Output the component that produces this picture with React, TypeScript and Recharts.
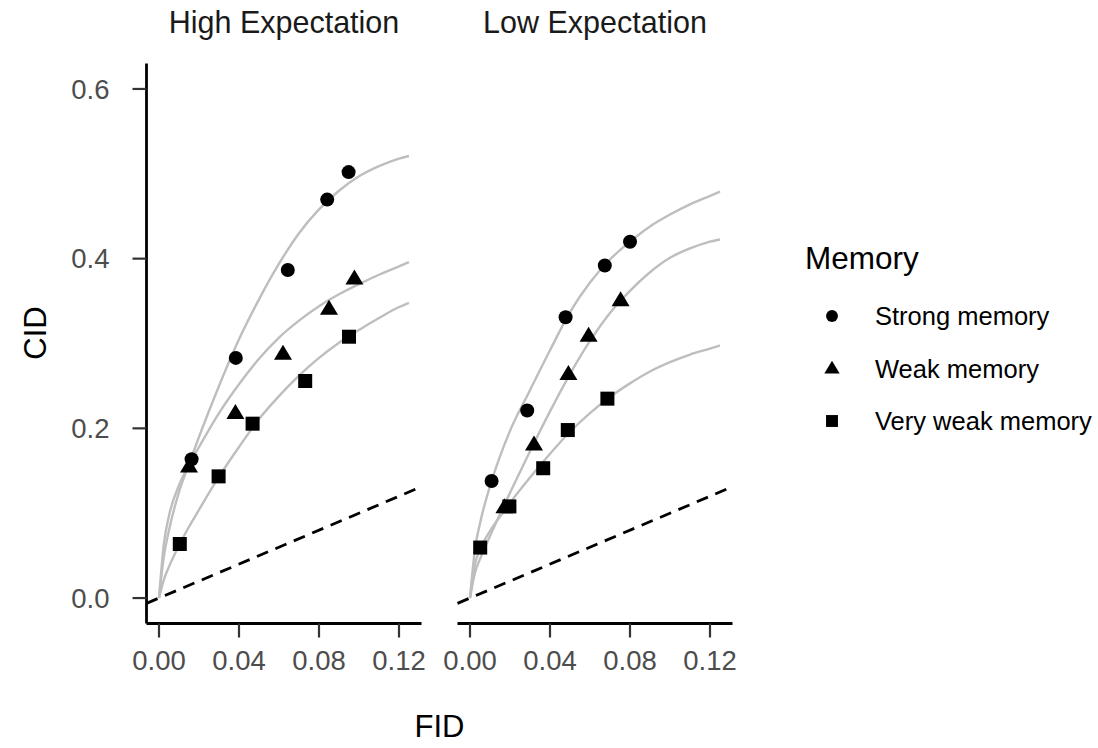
import {
  ComposedChart,
  Line,
  ReferenceLine,
  Scatter,
  XAxis,
  YAxis
} from "recharts";

const FONT = "'Liberation Sans', Arial, sans-serif";

const xTicks = [0, 0.04, 0.08, 0.12];
const yTicks = [0, 0.2, 0.4, 0.6];
const xDomain: [number, number] = [-0.00625, 0.13125];
const yDomain: [number, number] = [-0.03, 0.63];

const panels = ["High Expectation", "Low Expectation"];
const memoryLevels = ["Strong memory", "Weak memory", "Very weak memory"];

const highStrongFid = [0.0163, 0.0384, 0.0644, 0.0841, 0.0948];
const highStrongCid = [0.1635, 0.283, 0.3866, 0.4696, 0.502];
const highWeakFid = [0.015, 0.0382, 0.062, 0.085, 0.0977];
const highWeakCid = [0.155, 0.218, 0.288, 0.341, 0.3765];
const highVeryWeakFid = [0.0104, 0.0298, 0.0468, 0.0731, 0.095];
const highVeryWeakCid = [0.0637, 0.1434, 0.2055, 0.2558, 0.308];

const lowStrongFid = [0.0108, 0.0286, 0.0478, 0.0674, 0.08];
const lowStrongCid = [0.138, 0.221, 0.331, 0.392, 0.42];
const lowWeakFid = [0.0172, 0.032, 0.0492, 0.0593, 0.0753];
const lowWeakCid = [0.107, 0.181, 0.264, 0.309, 0.351];
const lowVeryWeakFid = [0.0051, 0.0197, 0.0366, 0.0489, 0.0687];
const lowVeryWeakCid = [0.0595, 0.108, 0.153, 0.198, 0.235];

// fitted curves
const curveFid = [
  0, 0.0025, 0.005, 0.01, 0.015, 0.02, 0.03, 0.04, 0.05, 0.06, 0.07, 0.08,
  0.09, 0.1, 0.11, 0.12, 0.125
];
const highStrongFit = [
  0, 0.05, 0.08, 0.125, 0.158, 0.19, 0.25, 0.305, 0.352, 0.394, 0.43, 0.458,
  0.48, 0.497, 0.509, 0.518, 0.521
];
const highWeakFit = [
  0, 0.065, 0.097, 0.133, 0.157, 0.178, 0.218, 0.252, 0.282, 0.307, 0.327,
  0.344, 0.358, 0.37, 0.381, 0.391, 0.396
];
const highVeryWeakFit = [
  0, 0.022, 0.037, 0.062, 0.084, 0.104, 0.143, 0.178, 0.211, 0.238, 0.262,
  0.283, 0.301, 0.316, 0.33, 0.343, 0.348
];
const lowStrongFit = [
  0, 0.058, 0.088, 0.132, 0.167, 0.197, 0.245, 0.292, 0.337, 0.372, 0.399,
  0.42, 0.438, 0.452, 0.464, 0.474, 0.479
];
const lowWeakFit = [
  0, 0.03, 0.046, 0.073, 0.099, 0.124, 0.173, 0.22, 0.264, 0.303, 0.336,
  0.362, 0.384, 0.401, 0.412, 0.42, 0.4226
];
const lowVeryWeakFit = [
  0, 0.04, 0.057, 0.079, 0.096, 0.112, 0.142, 0.17, 0.196, 0.218, 0.237,
  0.253, 0.267, 0.278, 0.287, 0.294, 0.2977
];

const toPoints = (xs: number[], ys: number[]) =>
  xs.map((x, i) => ({ x, y: ys[i] }));

const panelData = [
  {
    points: [
      toPoints(highStrongFid, highStrongCid),
      toPoints(highWeakFid, highWeakCid),
      toPoints(highVeryWeakFid, highVeryWeakCid)
    ],
    fits: [
      toPoints(curveFid, highStrongFit),
      toPoints(curveFid, highWeakFit),
      toPoints(curveFid, highVeryWeakFit)
    ]
  },
  {
    points: [
      toPoints(lowStrongFid, lowStrongCid),
      toPoints(lowWeakFid, lowWeakCid),
      toPoints(lowVeryWeakFid, lowVeryWeakCid)
    ],
    fits: [
      toPoints(curveFid, lowStrongFit),
      toPoints(curveFid, lowWeakFit),
      toPoints(curveFid, lowVeryWeakFit)
    ]
  }
];

function CircleMark({ cx, cy }: { cx?: number; cy?: number }) {
  return <circle cx={cx} cy={cy} r={7} fill="#000" />;
}

function TriangleMark({ cx, cy }: { cx?: number; cy?: number }) {
  const x = cx ?? 0;
  const y = cy ?? 0;
  return (
    <polygon
      points={`${x},${y - 9} ${x - 9},${y + 6} ${x + 9},${y + 6}`}
      fill="#000"
    />
  );
}

function SquareMark({ cx, cy }: { cx?: number; cy?: number }) {
  return (
    <rect x={(cx ?? 0) - 7} y={(cy ?? 0) - 7} width={14} height={14} fill="#000" />
  );
}

const marks = [CircleMark, TriangleMark, SquareMark];

const tickStyle = { fontSize: 27.5, fill: "#4d4d4d", fontFamily: FONT };

function Panel({ index }: { index: number }) {
  const data = panelData[index];
  const first = index === 0;
  return (
    <ComposedChart
      width={first ? 430 : 302}
      height={700}
      margin={{ top: 63.5, right: first ? 8.5 : 9.5, bottom: 0, left: first ? 66.5 : 17.5 }}
    >
      <XAxis
        type="number"
        dataKey="x"
        domain={xDomain}
        ticks={xTicks}
        allowDataOverflow
        height={76.5}
        tickFormatter={(v) => Number(v).toFixed(2)}
        axisLine={{ stroke: "#000", strokeWidth: 2.8 }}
        tickLine={{ stroke: "#333", strokeWidth: 2.2 }}
        tickSize={14}
        tickMargin={13}
        tick={tickStyle}
      />
      <YAxis
        type="number"
        dataKey="y"
        domain={yDomain}
        ticks={yTicks}
        allowDataOverflow
        hide={!first}
        width={80}
        tickFormatter={(v) => Number(v).toFixed(1)}
        axisLine={{ stroke: "#000", strokeWidth: 2.8 }}
        tickLine={{ stroke: "#333", strokeWidth: 2.2 }}
        tickSize={14}
        tickMargin={23}
        tick={tickStyle}
      />
      {data.fits.map((fit, i) => (
        <Line
          key={`fit-${i}`}
          data={fit}
          dataKey="y"
          type="monotone"
          stroke="#bebebe"
          strokeWidth={2.4}
          dot={false}
          activeDot={false}
          isAnimationActive={false}
        />
      ))}
      <ReferenceLine
        segment={[
          { x: xDomain[0], y: xDomain[0] },
          { x: xDomain[1], y: xDomain[1] }
        ]}
        stroke="#000"
        strokeWidth={2.8}
        strokeDasharray="12 8"
      />
      {data.points.map((pts, i) => (
        <Scatter
          key={`pts-${i}`}
          name={memoryLevels[i]}
          data={pts}
          dataKey="y"
          shape={marks[i]}
          isAnimationActive={false}
        />
      ))}
    </ComposedChart>
  );
}

export default function App() {
  return (
    <div
      style={{
        position: "absolute",
        left: 0,
        top: 0,
        width: 1098,
        height: 748,
        background: "#fff",
        fontFamily: FONT
      }}
    >
      <div style={{ position: "absolute", left: 0, top: 0 }}>
        <Panel index={0} />
      </div>
      <div style={{ position: "absolute", left: 440, top: 0 }}>
        <Panel index={1} />
      </div>
      <svg
        width={1098}
        height={748}
        style={{ position: "absolute", left: 0, top: 0, pointerEvents: "none" }}
        fontFamily={FONT}
      >
        <text x={284} y={33} fontSize={30.5} textAnchor="middle" fill="#1a1a1a">
          {panels[0]}
        </text>
        <text x={595} y={33} fontSize={30.5} textAnchor="middle" fill="#1a1a1a">
          {panels[1]}
        </text>
        <text x={439.5} y={737} fontSize={31} textAnchor="middle" fill="#000">
          FID
        </text>
        <text
          x={0}
          y={0}
          fontSize={31}
          textAnchor="middle"
          fill="#000"
          transform="translate(46 333) rotate(-90)"
        >
          CID
        </text>
        <text x={805} y={269} fontSize={31.5} fill="#000">
          Memory
        </text>
        {memoryLevels.map((label, i) => {
          const y = 316 + i * 52.5;
          const Mark = marks[i];
          return (
            <g key={label}>
              <g transform={`translate(${832} ${y}) scale(0.85) translate(${-832} ${-y})`}>
                <Mark cx={832} cy={y} />
              </g>
              <text x={875} y={y + 9} fontSize={25.5} fill="#000">
                {label}
              </text>
            </g>
          );
        })}
      </svg>
    </div>
  );
}
